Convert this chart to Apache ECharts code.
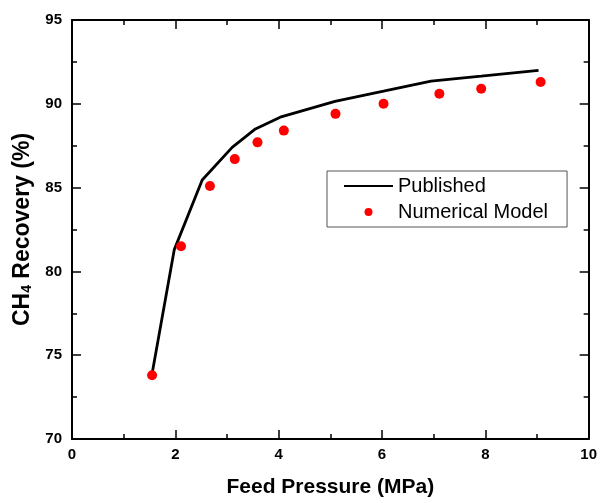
<!DOCTYPE html>
<html>
<head>
<meta charset="utf-8">
<script src="https://cdn.jsdelivr.net/npm/echarts@6/dist/echarts.min.js"></script>
<style>html,body{margin:0;padding:0;background:#fff}#c{width:600px;height:503px}</style>
</head>
<body>
<div id="c"></div>
<script>
// Published (line)
const publishedX = [1.55, 1.98, 2.52, 3.10, 3.55, 4.03, 5.09, 6.03, 6.95, 7.92, 9.03];
const publishedY = [73.9, 81.3, 85.45, 87.4, 88.5, 89.2, 90.15, 90.75, 91.35, 91.65, 92.0];
// Numerical Model (scatter)
const modelX = [1.55, 2.11, 2.67, 3.15, 3.59, 4.10, 5.10, 6.03, 7.11, 7.92, 9.07];
const modelY = [73.8, 81.5, 85.1, 86.7, 87.7, 88.4, 89.4, 90.0, 90.6, 90.9, 91.3];
const seriesNames = ['Published', 'Numerical Model'];
const xTitle = 'Feed Pressure (MPa)';
const yTitle = '{a|CH}{s|4}{a| Recovery (%)}';

const FONT = "'Liberation Sans', Arial, sans-serif";
const chart = echarts.init(document.getElementById('c'), null, {renderer: 'canvas'});

const axisCommon = {
  axisLine: {show: true, onZero: false, lineStyle: {color: '#000', width: 2}},
  axisTick: {show: true, inside: true, length: 9, lineStyle: {color: '#000', width: 1.5}},
  minorTick: {show: true, splitNumber: 2, length: 5, lineStyle: {color: '#000', width: 1.5}},
  splitLine: {show: false},
  minorSplitLine: {show: false}
};

chart.setOption({
  animation: false,
  backgroundColor: '#fff',
  grid: {left: 72, right: 8, top: 20, bottom: 60},
  legend: {
    orient: 'vertical',
    left: 327, top: 171,
    data: [
      {name: seriesNames[0], itemStyle: {opacity: 0}},
      {name: seriesNames[1]}
    ],
    itemWidth: 49, itemHeight: 8, itemGap: 6,
    padding: [5, 19, 5, 16],
    borderColor: '#555', borderWidth: 1,
    textStyle: {fontFamily: FONT, fontSize: 20, color: '#000', lineHeight: 20}
  },
  xAxis: [
    Object.assign({}, axisCommon, {
      type: 'value', min: 0, max: 10, interval: 2, position: 'bottom',
      name: xTitle, nameLocation: 'middle', nameGap: 38,
      nameTextStyle: {fontFamily: FONT, fontSize: 21, fontWeight: 'bold', color: '#000'},
      axisLabel: {fontFamily: FONT, fontSize: 15, fontWeight: 'bold', color: '#000', margin: 8}
    }),
    Object.assign({}, axisCommon, {
      type: 'value', min: 0, max: 10, interval: 2, position: 'top',
      axisLabel: {show: false}
    })
  ],
  yAxis: [
    Object.assign({}, axisCommon, {
      type: 'value', min: 70, max: 95, interval: 5, position: 'left',
      name: yTitle, nameLocation: 'middle', nameGap: 34, nameRotate: 90,
      nameTextStyle: {
        fontFamily: FONT, color: '#000',
        rich: {
          a: {fontFamily: FONT, fontSize: 23, fontWeight: 'bold', color: '#000', lineHeight: 28, verticalAlign: 'bottom'},
          s: {fontFamily: FONT, fontSize: 14, fontWeight: 'bold', color: '#000', lineHeight: 28, verticalAlign: 'bottom', padding: [8, 0, 0, 0]}
        }
      },
      axisLabel: {fontFamily: FONT, fontSize: 15, fontWeight: 'bold', color: '#000', margin: 10}
    }),
    Object.assign({}, axisCommon, {
      type: 'value', min: 70, max: 95, interval: 5, position: 'right',
      axisLabel: {show: false}
    })
  ],
  series: [
    {
      name: seriesNames[0], type: 'line', xAxisIndex: 0, yAxisIndex: 0,
      data: publishedX.map((x, i) => [x, publishedY[i]]),
      symbol: 'none',
      lineStyle: {color: '#000', width: 2.8},
      itemStyle: {color: '#000'},
      z: 2
    },
    {
      name: seriesNames[1], type: 'scatter', xAxisIndex: 0, yAxisIndex: 0,
      data: modelX.map((x, i) => [x, modelY[i]]),
      symbol: 'circle', symbolSize: 10,
      itemStyle: {color: '#ff0000', opacity: 1},
      z: 3
    }
  ]
});
</script>
</body>
</html>
